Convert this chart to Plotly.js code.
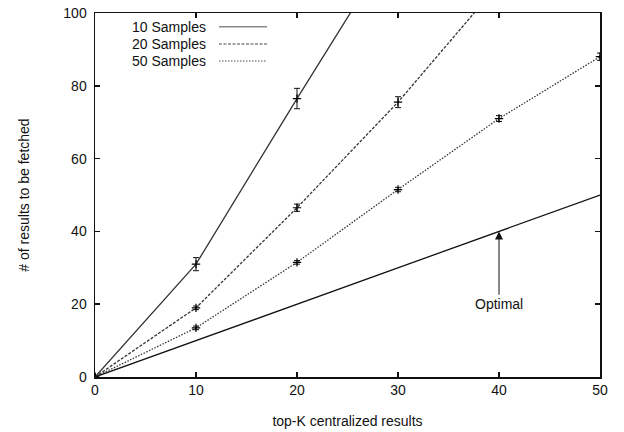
<!DOCTYPE html>
<html>
<head>
<meta charset="utf-8">
<script src="https://cdn.plot.ly/plotly-3.0.1.min.js"></script>
<style>html,body{margin:0;padding:0;background:#fff;}#chart{width:624px;height:432px;}</style>
</head>
<body>
<div id="chart"></div>
<script>
// Data
const xSamples = [0, 10, 20, 30, 40, 50];
const s10Y   = [0, 31, 76.5, 121];
const s10Err = [0, 1.8, 2.8, 0];
const s20Y   = [0, 19, 46.5, 75.5, 108];
const s20Err = [0, 0.5, 1.0, 1.5, 0];
const s50Y   = [0, 13.5, 31.5, 51.5, 71, 88];
const s50Err = [0, 0.5, 0.5, 0.6, 0.8, 1.0];
const optX = [0, 50];
const optY = [0, 50];
const seriesNames = ['10 Samples', '20 Samples', '50 Samples'];
const xTicks = [0, 10, 20, 30, 40, 50];
const yTicks = [0, 20, 40, 60, 80, 100];

const FONT = 'Liberation Sans, Arial, Helvetica, sans-serif';
const lineCol = '#333';

function errTrace(y, err, dash) {
  return {
    x: xSamples.slice(0, y.length), y: y,
    type: 'scatter', mode: 'lines+markers',
    line: {color: lineCol, width: 1.3, dash: dash},
    marker: {symbol: 'cross-thin', size: 6, color: '#000', line: {color: '#000', width: 1.2}},
    error_y: {type: 'data', array: err, visible: true, color: '#111', thickness: 1, width: 3},
    showlegend: false, hoverinfo: 'skip'
  };
}

const traces = [
  errTrace(s10Y, s10Err, 'solid'),
  errTrace(s20Y, s20Err, '3px,1.5px'),
  errTrace(s50Y, s50Err, '1.5px,1.5px'),
  {x: optX, y: optY, type: 'scatter', mode: 'lines',
   line: {color: '#111', width: 1.3}, showlegend: false, hoverinfo: 'skip'}
];

const dashes = ['solid', '3px,1.5px', '1.5px,1.5px'];
const legY = [0.962, 0.915, 0.868];
const annotations = seriesNames.map((n, i) => ({
  xref: 'paper', yref: 'paper', x: 0.224, y: legY[i],
  xanchor: 'right', yanchor: 'middle', text: n, showarrow: false,
  font: {family: FONT, size: 14, color: '#111'}
}));
annotations.push({
  x: 40, y: 40, xref: 'x', yref: 'y',
  ax: 40, ay: 20, axref: 'x', ayref: 'y',
  text: 'Optimal', showarrow: true, arrowhead: 2, arrowsize: 1.6,
  arrowwidth: 1, arrowcolor: '#111', standoff: 0,
  font: {family: FONT, size: 14, color: '#111'}
});
const shapes = dashes.map((d, i) => ({
  type: 'line', xref: 'paper', yref: 'paper',
  x0: 0.2455, x1: 0.3406, y0: legY[i], y1: legY[i],
  line: {color: '#888', width: 1.5, dash: d}
}));

const axisCommon = {
  showgrid: false, zeroline: false, showline: true, mirror: 'ticks',
  linecolor: '#111', linewidth: 1.5, ticks: 'inside', ticklen: 5,
  tickcolor: '#111', tickwidth: 1.5,
  tickfont: {family: FONT, size: 14, color: '#111'}
};

const layout = {
  width: 624, height: 432,
  margin: {l: 95, r: 24, t: 13, b: 55},
  paper_bgcolor: '#fff', plot_bgcolor: '#fff',
  xaxis: Object.assign({}, axisCommon, {
    range: [0, 50], tickvals: xTicks,
    title: {text: 'top-K centralized results', font: {family: FONT, size: 14, color: '#111'}, standoff: 19}
  }),
  yaxis: Object.assign({}, axisCommon, {
    range: [0, 100], tickvals: yTicks, ticklabelstandoff: 4,
    title: {text: '# of results to be fetched', font: {family: FONT, size: 14, color: '#111'}, standoff: 30}
  }),
  annotations: annotations,
  shapes: shapes,
  showlegend: false
};

Plotly.newPlot('chart', traces, layout, {staticPlot: true});
</script>
</body>
</html>
